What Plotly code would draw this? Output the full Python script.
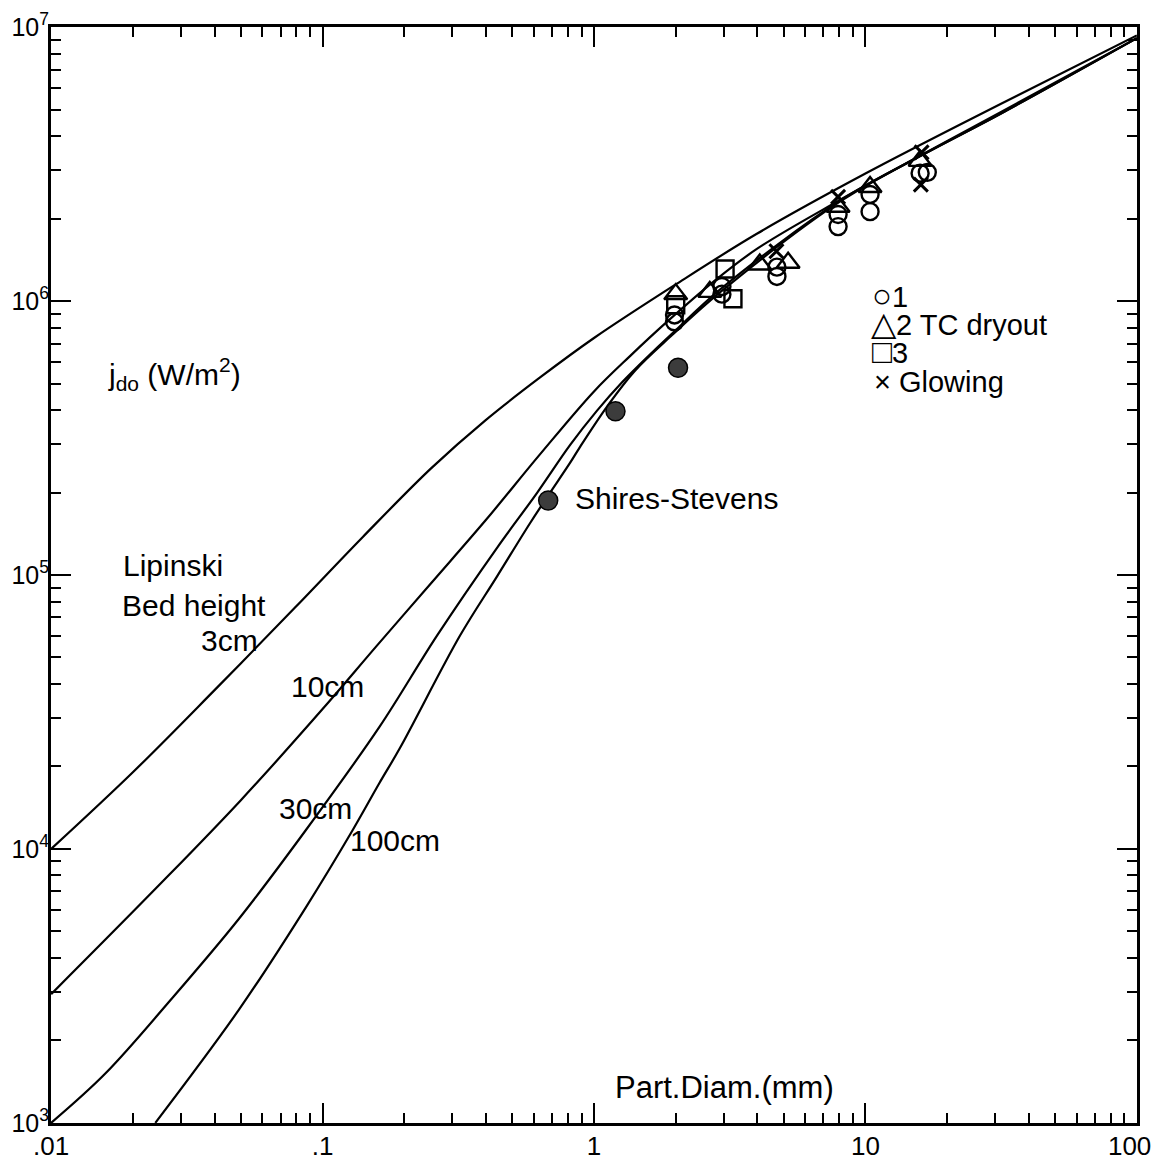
import plotly.graph_objects as go

# ---------------- data ----------------
# Lipinski model curves, particle diameter (mm) vs dryout heat flux (W/m^2)
d_3cm = [0.01, 0.02, 0.04, 0.079, 0.141, 0.251, 0.398, 0.631, 1.0, 2.0, 3.98, 10.0, 31.6, 100]
q_3cm = [1.0e4, 1.905e4, 3.8e4, 7.59e4, 1.38e5, 2.45e5, 3.67e5, 5.25e5, 7.33e5, 1.15e6, 1.76e6, 2.92e6, 5.25e6, 9.33e6]

d_10cm = [0.01, 0.0251, 0.0501, 0.1, 0.158, 0.251, 0.398, 0.631, 1.0, 1.36, 1.86, 2.75, 3.98, 7.94, 16.6, 31.6, 100]
q_10cm = [2.95e3, 7.41e3, 1.51e4, 3.24e4, 5.5e4, 9.33e4, 1.58e5, 2.75e5, 4.68e5, 6.31e5, 8.41e5, 1.175e6, 1.55e6, 2.32e6, 3.47e6, 4.9e6, 9.12e6]

d_30cm = [0.01, 0.0158, 0.0279, 0.0492, 0.0867, 0.162, 0.264, 0.44, 0.617, 0.817, 1.026, 1.259, 1.648, 1.936, 2.94, 8.13, 16.7, 31.6, 100]
q_30cm = [1.0e3, 1.51e3, 2.85e3, 5.56e3, 1.17e4, 2.79e4, 6.01e4, 1.26e5, 1.995e5, 2.985e5, 3.98e5, 5.01e5, 6.53e5, 7.59e5, 1.11e6, 2.34e6, 3.47e6, 4.84e6, 9.12e6]

d_100cm = [0.0242, 0.0492, 0.0867, 0.129, 0.162, 0.193, 0.321, 0.44, 0.581, 0.678, 0.817, 0.891, 1.117, 1.413, 1.936, 2.94, 8.13, 16.7, 31.6, 100]
q_100cm = [1.0e3, 2.59e3, 6.11e3, 1.17e4, 1.74e4, 2.34e4, 6.01e4, 9.91e4, 1.545e5, 1.95e5, 2.57e5, 2.95e5, 4.12e5, 5.56e5, 7.5e5, 1.084e6, 2.32e6, 3.47e6, 4.84e6, 9.12e6]

# Shires-Stevens experiments
ss_d = [0.678, 1.2, 2.04]
ss_q = [1.87e5, 3.96e5, 5.71e5]

# present experiments
c1_d = [1.98, 1.98, 2.96, 2.96, 4.72, 4.72, 7.93, 7.93, 10.4, 10.4, 15.9, 16.9]
c1_q = [8.9e5, 8.4e5, 1.13e6, 1.06e6, 1.33e6, 1.23e6, 2.07e6, 1.87e6, 2.45e6, 2.12e6, 2.93e6, 2.95e6]
t2_d = [2.0, 2.67, 4.08, 5.19, 7.93, 10.4, 15.9]
t2_q = [1.06e6, 1.08e6, 1.36e6, 1.38e6, 2.21e6, 2.61e6, 3.25e6]
s3_d = [2.0, 3.04, 3.25]
s3_q = [9.7e5, 1.31e6, 1.02e6]
gl_d = [4.7, 7.93, 16.1, 16.0]
gl_q = [1.52e6, 2.4e6, 3.49e6, 2.66e6]

x_ticks = [0.01, 0.1, 1, 10, 100]
x_ticktext = [".01", ".1", "1", "10", "100\u00a0\u00a0"]
y_ticks = [1e3, 1e4, 1e5, 1e6, 1e7]
y_ticktext = ["10<sup>3</sup>", "10<sup>4</sup>", "10<sup>5</sup>", "10<sup>6</sup>", "10<sup>7</sup>"]

# ---------------- figure ----------------
FONT = "Liberation Sans"
OFF = 8                      # default page margin of the html body
W, H = 1160 - OFF, 1165 - OFF
# plot frame in page pixels
PX0, PX1, PY0, PY1 = 51, 1137, 27, 1123
L, R = PX0 - OFF, W - (PX1 - OFF)
T, B = PY0 - OFF, H - (PY1 - OFF)

fig = go.Figure()
line_style = dict(color="black", width=2.2, shape="spline", smoothing=1.0)
for d, q in [(d_3cm, q_3cm), (d_10cm, q_10cm), (d_30cm, q_30cm), (d_100cm, q_100cm)]:
    fig.add_trace(go.Scatter(x=d, y=q, mode="lines", line=line_style,
                             showlegend=False, hoverinfo="skip"))

fig.add_trace(go.Scatter(x=ss_d, y=ss_q, mode="markers", showlegend=False,
                         marker=dict(symbol="circle", size=19, color="#3c3c3c",
                                     line=dict(color="black", width=1.5))))
mk_line = dict(color="black", width=2.4)
fig.add_trace(go.Scatter(x=c1_d, y=c1_q, mode="markers", showlegend=False,
                         marker=dict(symbol="circle-open", size=17, color="black", line=mk_line)))
fig.add_trace(go.Scatter(x=t2_d, y=t2_q, mode="markers", showlegend=False,
                         marker=dict(symbol="triangle-up-open", size=20, color="black", line=mk_line)))
fig.add_trace(go.Scatter(x=s3_d, y=s3_q, mode="markers", showlegend=False,
                         marker=dict(symbol="square-open", size=17, color="black", line=mk_line)))
fig.add_trace(go.Scatter(x=gl_d, y=gl_q, mode="markers", showlegend=False,
                         marker=dict(symbol="x-thin-open", size=14, color="black",
                                     line=dict(color="black", width=3))))

x_minor = [k * 10.0 ** e for e in range(-2, 2) for k in range(2, 10)]
y_minor = [k * 10.0 ** e for e in range(3, 7) for k in range(2, 10)]

axis_common = dict(type="log", showgrid=False, zeroline=False, showline=True,
                   automargin=False, ticklabeloverflow="allow",
                   linecolor="black", linewidth=3, mirror="allticks",
                   ticks="inside", ticklen=20, tickwidth=2, tickcolor="black",
                   tickmode="array")

fig.update_xaxes(**axis_common, range=[-2.0005, 2.0005], tickvals=x_ticks, ticktext=x_ticktext,
                 ticklabelstandoff=-2, tickfont=dict(family=FONT, size=26, color="black"),
                 minor=dict(tickmode="array", tickvals=x_minor, ticks="inside",
                            ticklen=10, tickwidth=2, tickcolor="black", showgrid=False))
fig.update_yaxes(**axis_common, range=[2.9995, 7.0005], tickvals=y_ticks, ticktext=y_ticktext,
                 ticklabelstandoff=-6, tickfont=dict(family=FONT, size=25, color="black"),
                 minor=dict(tickmode="array", tickvals=y_minor, ticks="inside",
                            ticklen=10, tickwidth=2, tickcolor="black", showgrid=False))


def P(px, py):
    """page pixel -> paper coordinates"""
    return (px - PX0) / (PX1 - PX0), (PY1 - py) / (PY1 - PY0)


def note(text, px, py, size=30):
    x, y = P(px, py)
    fig.add_annotation(text=text, x=x, y=y, xref="paper", yref="paper",
                       xanchor="left", yanchor="middle", showarrow=False,
                       font=dict(family=FONT, size=size, color="black"))


note("j<sub>do</sub> (W/m<sup>2</sup>)", 106, 374, 30)
note("Lipinski", 121, 565)
note("Bed height", 120, 606)
note("3cm", 199, 640)
note("10cm", 289, 686)
note("30cm", 277, 808)
note("100cm", 348, 840)
note("Shires-Stevens", 573, 498)
note("Part.Diam.(mm)", 613, 1087, 31)

SYM = "<span style='font-size:33px'>{}</span>"
note(SYM.format("○") + "1", 870, 295, 29)
note(SYM.format("△") + "2 TC dryout", 869, 323, 29)
note(SYM.format("□") + "3", 870, 352, 29)
note("× Glowing", 872, 382, 29)

fig.update_layout(width=W, height=H, margin=dict(l=L, r=R, t=T, b=B),
                  paper_bgcolor="white", plot_bgcolor="white",
                  font=dict(family=FONT, color="black"), showlegend=False)

fig.write_html("out.html", config={"displayModeBar": False})
